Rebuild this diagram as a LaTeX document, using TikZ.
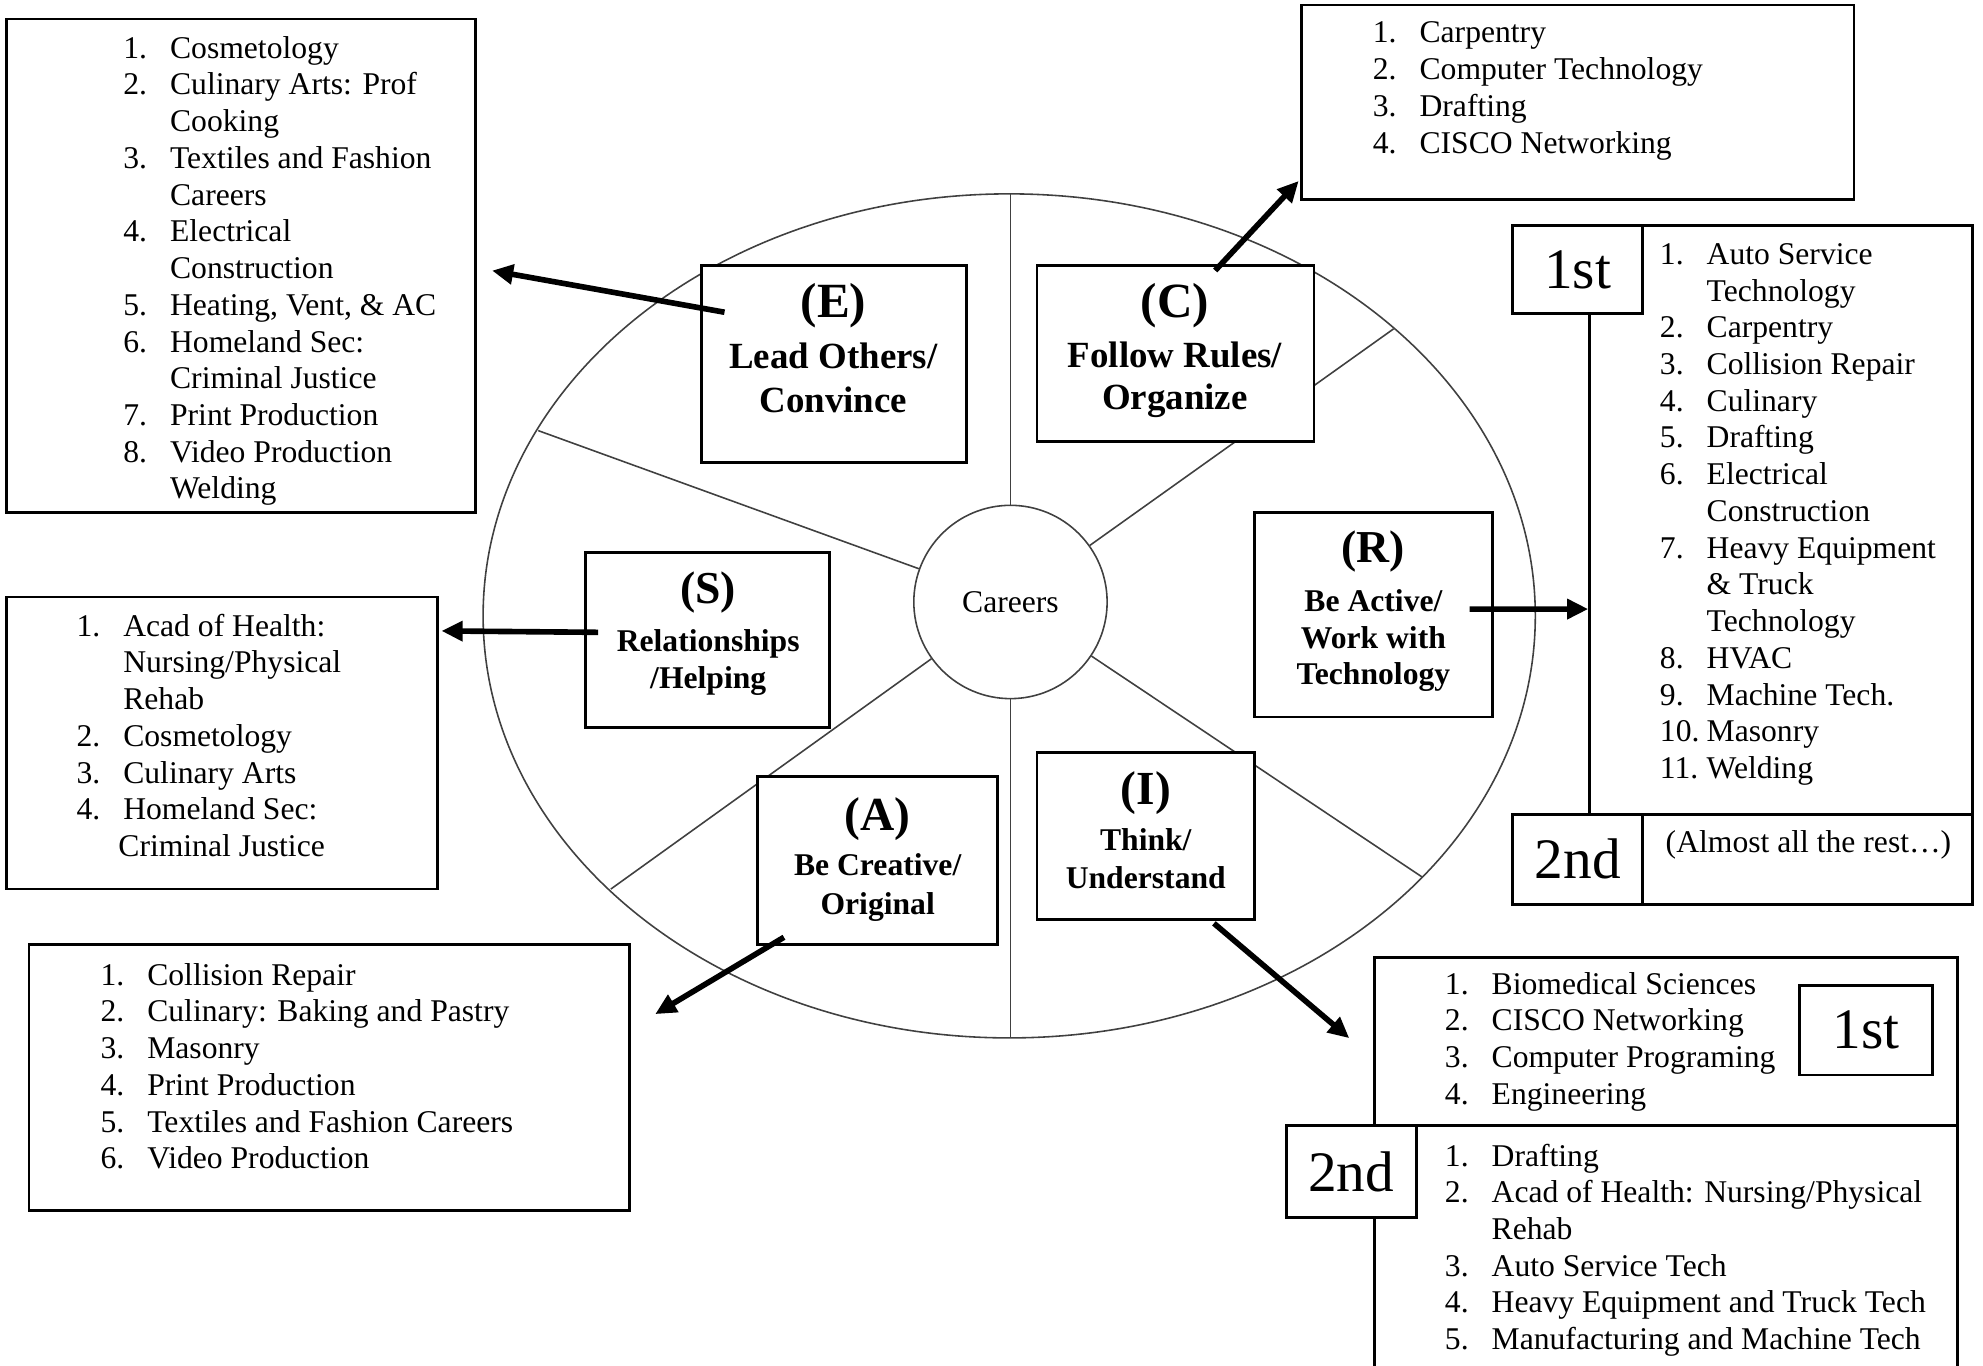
\documentclass[tikz,border=0pt]{standalone}
\usepackage{fontspec}
\setmainfont{Liberation Serif}
\usetikzlibrary{positioning, arrows.meta, fit}

\newcommand{\listfont}{\fontsize{9}{10.45}\selectfont}
\newenvironment{joblist}{\begin{tabular}[t]{@{}p{13.3pt}@{}l@{}}}{\end{tabular}}

\begin{document}
\begin{tikzpicture}[x=0.12647mm,y=-0.12647mm,>={Triangle[length=6pt,width=5.5pt]},
    wheel/.style={draw=black!75,line width=0.45pt},
    cat box/.style={draw,fill=white,line width=0.8pt,inner sep=0pt},
    list box/.style={draw,fill=white,line width=0.8pt,inner sep=0pt},
    rank box/.style={draw,fill=white,line width=0.8pt,inner sep=0pt},
    rank text/.style={inner sep=0pt,font=\fontsize{16.3}{16.3}\selectfont},
    cat text/.style={align=center,inner sep=0pt},
    list text/.style={anchor=base west,inner sep=0pt,font=\listfont},
    pointer/.style={->,line width=1.6pt}]

\useasboundingbox (0,0) rectangle (1568,1080);
\clip (0,0) rectangle (1568,1080);

% wheel and spokes
\draw[wheel] (798,487) ellipse [x radius=416, y radius=333.7];
\node[wheel, circle, fill=white, minimum size=55pt, inner sep=0pt, font=\listfont] (careers) at (799,476) {Careers};
\coordinate (rimN) at (799,153.4);
\coordinate (rimS) at (799,820.7);
\coordinate (rimNE) at (1102,260);
\coordinate (rimSE) at (1124.4,693.4);
\coordinate (rimSW) at (483,703);
\coordinate (rimNW) at (425.6,340.5);
\foreach \r in {rimN,rimNE,rimSE,rimS,rimSW,rimNW}
  \draw[wheel] (careers) -- (\r);

% category boxes
\node[cat box, fit={(555,210) (764,366)}] (E) {};
\node[cat box, fit={(820,210) (1039,349)}] (C) {};
\node[cat box, fit={(463,437) (656,575)}] (S) {};
\node[cat box, fit={(992,405) (1180,567)}] (R) {};
\node[cat box, fit={(599,614) (789,747)}] (A) {};
\node[cat box, fit={(820,595) (992,727)}] (I) {};

\node[cat text, font=\fontsize{10.5}{12.6}\selectfont\bfseries] (Etext) at (659,275.5)
  {{\fontsize{14}{14}\selectfont (E)}\\[1.8pt] Lead Others/\\ Convince};
\node[cat text, font=\fontsize{10.5}{12.2}\selectfont\bfseries] (Ctext) at (929,277.5)
  {{\fontsize{14}{14}\selectfont (C)}\\[1.8pt] Follow Rules/\\ Organize};
\node[cat text, font=\fontsize{9}{10.45}\selectfont\bfseries] (Stext) at (560,501)
  {{\fontsize{13}{13}\selectfont (S)}\\[3.4pt] Relationships\\ /Helping};
\node[cat text, font=\fontsize{9}{10.45}\selectfont\bfseries] (Rtext) at (1086,483.5)
  {{\fontsize{13}{13}\selectfont (R)}\\[3.4pt] Be Active/\\ Work with\\ Technology};
\node[cat text, font=\fontsize{9}{11.2}\selectfont\bfseries] (Atext) at (694,679.5)
  {{\fontsize{13.5}{13.5}\selectfont (A)}\\[1.6pt] Be Creative/\\ Original};
\node[cat text, font=\fontsize{9}{10.8}\selectfont\bfseries] (Itext) at (906,656.5)
  {{\fontsize{13.5}{13.5}\selectfont (I)}\\[2.3pt] Think/\\ Understand};

% career lists
\node[list box, fit={(5,15) (376,405)}] (Elist) {};
\node[list text] (Eitems) at (97,46) {\begin{joblist}
1. & Cosmetology\\
2. & Culinary Arts: Prof\\
   & Cooking\\
3. & Textiles and Fashion\\
   & Careers\\
4. & Electrical\\
   & Construction\\
5. & Heating, Vent, \& AC\\
6. & Homeland Sec:\\
   & Criminal Justice\\
7. & Print Production\\
8. & Video Production\\
   & Welding
\end{joblist}};

\node[list box, fit={(1029,4) (1466,158)}] (Clist) {};
\node[list text] (Citems) at (1085,34) {\begin{joblist}
1. & Carpentry\\
2. & Computer Technology\\
3. & Drafting\\
4. & CISCO Networking
\end{joblist}};

\node[list box, fit={(1257,178) (1560,644)}] (Rlist) {};
\node[rank box, fit={(1196,178) (1299,248)}, label={[rank text]center:1st}] (R1st) {};
\node[rank box, fit={(1196,644) (1299,715)}, label={[rank text]center:2nd}] (R2nd) {};
\node[list box, fit={(1299,644) (1560,715)}] (Rrest) {};
\node[list text, anchor=center] (Rresttext) at (1430,668) {(Almost all the rest…)};
\node[list text] (Ritems) at (1312,209) {\begin{joblist}
1.  & Auto Service\\
    & Technology\\
2.  & Carpentry\\
3.  & Collision Repair\\
4.  & Culinary\\
5.  & Drafting\\
6.  & Electrical\\
    & Construction\\
7.  & Heavy Equipment\\
    & \& Truck\\
    & Technology\\
8.  & HVAC\\
9.  & Machine Tech.\\
10. & Masonry\\
11. & Welding
\end{joblist}};

\node[list box, fit={(5,472) (346,703)}] (Slist) {};
\node[list text] (Sitems) at (60,503) {\begin{joblist}
1. & Acad of Health:\\
   & Nursing/Physical\\
   & Rehab\\
2. & Cosmetology\\
3. & Culinary Arts\\
4. & Homeland Sec:\\
   & \hspace{-1.4pt}Criminal Justice
\end{joblist}};

\node[list box, fit={(23,747) (498,957)}] (Alist) {};
\node[list text] (Aitems) at (79,779) {\begin{joblist}
1. & Collision Repair\\
2. & Culinary: Baking and Pastry\\
3. & Masonry\\
4. & Print Production\\
5. & Textiles and Fashion Careers\\
6. & Video Production
\end{joblist}};

\node[list box, fit={(1087,757) (1548,890)}] (Itop) {};
\node[list box, fit={(1087,890) (1548,1100)}] (Ibottom) {};
\node[rank box, fit={(1423,779) (1528,850)}, label={[rank text]center:1st}] (I1st) {};
\node[rank box, fit={(1017,890) (1120,963)}, label={[rank text]center:2nd}] (I2nd) {};
\node[list text] (Itopitems) at (1142,786) {\begin{joblist}
1. & Biomedical Sciences\\
2. & CISCO Networking\\
3. & Computer Programing\\
4. & Engineering
\end{joblist}};
\node[list text] (Ibottomitems) at (1142,922) {\begin{joblist}
1. & Drafting\\
2. & Acad of Health: Nursing/Physical\\
   & Rehab\\
3. & Auto Service Tech\\
4. & Heavy Equipment and Truck Tech\\
5. & Manufacturing and Machine Tech
\end{joblist}};

% arrows
\draw[pointer] ([shift={(19,38)}]E.north west) -- ([shift={(12,4)}]Elist.east);
\draw[pointer] ([shift={(142,5)}]C.north west) -- ([shift={(-1,-16)}]Clist.south west);
\draw[pointer] ([shift={(11,-6)}]S.west) -- ([shift={(2,28)}]Slist.north east);
\draw[pointer] ([shift={(-19,-4.4)}]R.east) -- ([shift={(0,70.6)}]Rlist.west);
\draw[pointer] ([shift={(22,-7)}]A.south west) -- ([shift={(19,56)}]Alist.north east);
\draw[pointer] ([shift={(141,2)}]I.south west) -- ([shift={(-19,65)}]Itop.north west);
\end{tikzpicture}
\end{document}
